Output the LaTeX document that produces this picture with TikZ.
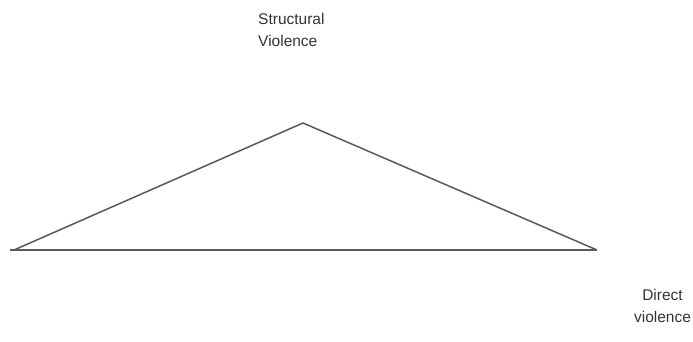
\documentclass[tikz,border=0pt]{standalone}
\usepackage{fontspec}
\setmainfont{Liberation Sans}
\begin{document}
\begin{tikzpicture}[x=1pt,y=1pt,
  edge/.style={draw=black!65,line width=1.5pt},
  lbl/.style={align=left,inner sep=0pt,anchor=north west,font=\fontsize{15.5}{22}\selectfont,text=black!80}]
\useasboundingbox (0,0) rectangle (693,341);
\coordinate (apex) at (303,218);
\coordinate (left) at (14,91);
\coordinate (right) at (597,91);
\coordinate (leftend) at (10,91);
\draw[edge] (left) -- (apex) -- (right);
\draw[edge] (leftend) -- (right);
\node[lbl] (sv) at (258,328) {Structural\\Violence};
\node[lbl,align=center,anchor=north] (dv) at (662.5,52) {Direct\\violence};
\end{tikzpicture}
\end{document}
